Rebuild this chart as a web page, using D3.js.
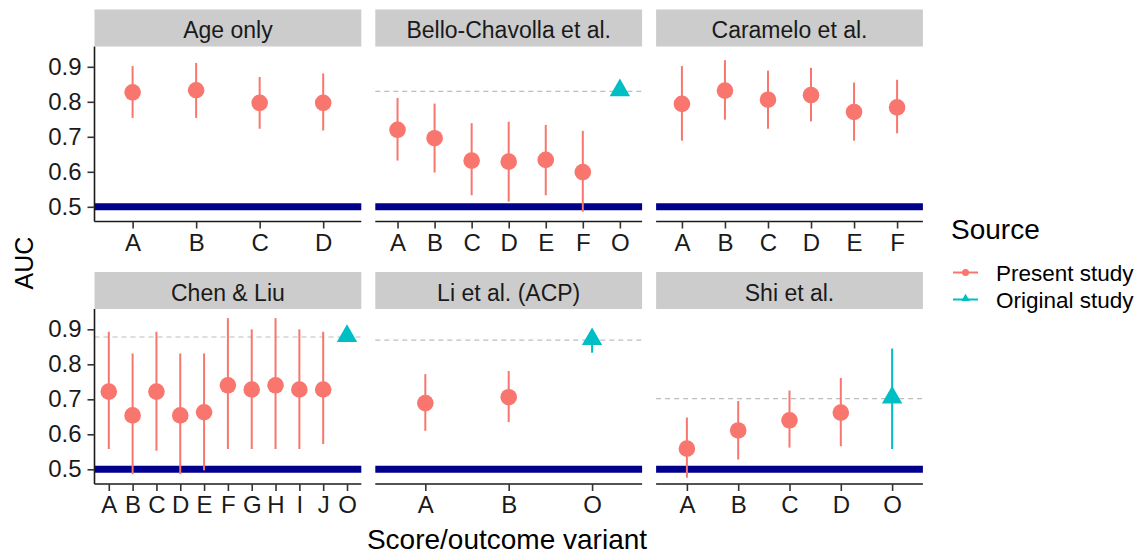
<!DOCTYPE html>
<html><head><meta charset="utf-8">
<script src="https://cdn.jsdelivr.net/npm/d3@7"></script>
<style>
body{margin:0;background:#fff}
svg{display:block}
text{font-family:"Liberation Sans",Arial,Helvetica,sans-serif}
</style>
</head><body>
<svg id="chart" width="1139" height="556"></svg>
<script>
// ---------- data ----------
const facets = ["Age only","Bello-Chavolla et al.","Caramelo et al.","Chen & Liu","Li et al. (ACP)","Shi et al."];

const ageCats = ["A","B","C","D"];
const ageAUC  = [0.827,0.833,0.797,0.797];
const ageLo   = [0.754,0.754,0.723,0.718];
const ageHi   = [0.902,0.911,0.871,0.881];

const belloCats = ["A","B","C","D","E","F","O"];
const belloAUC  = [0.720,0.696,0.632,0.629,0.634,0.599];
const belloLo   = [0.632,0.598,0.533,0.515,0.533,0.486];
const belloHi   = [0.811,0.795,0.739,0.743,0.734,0.717];

const caraCats = ["A","B","C","D","E","F"];
const caraAUC  = [0.794,0.832,0.806,0.819,0.771,0.784];
const caraLo   = [0.689,0.749,0.723,0.744,0.689,0.710];
const caraHi   = [0.902,0.919,0.889,0.897,0.855,0.863];

const chenCats = ["A","B","C","D","E","F","G","H","I","J","O"];
const chenAUC  = [0.722,0.654,0.722,0.654,0.663,0.740,0.728,0.740,0.728,0.728];
const chenLo   = [0.558,0.486,0.553,0.486,0.497,0.558,0.558,0.558,0.558,0.572];
const chenHi   = [0.893,0.831,0.893,0.831,0.831,0.932,0.900,0.932,0.900,0.893];

const liCats = ["A","B","O"];
const liAUC  = [0.689,0.706];
const liLo   = [0.610,0.635];
const liHi   = [0.772,0.781];

const shiCats = ["A","B","C","D","O"];
const shiAUC  = [0.559,0.611,0.640,0.662];
const shiLo   = [0.476,0.528,0.562,0.566];
const shiHi   = [0.648,0.695,0.725,0.761];

// original study values ("O"), per facet (null = none)
const origAUC = [null,0.830,null,0.878,0.869,0.702];
const origLo  = [null,null,null,null,0.833,0.558];
const origHi  = [null,null,null,null,0.900,0.845];

const yTicks = [0.5,0.6,0.7,0.8,0.9];
const refLine = 0.5;
const sources = ["Present study","Original study"];

// ---------- layout ----------
const colors = {present:"#F8766D", original:"#00BFC4", ref:"#00008B", strip:"#CCCCCC"};
const panelLeft0 = 94.5, panelW = 266.8, panelGap = 14;
const rowTop = [9.5, 272], stripH = 37, panelH = 175;
const tickFont = 24;

const svg = d3.select("#chart");
const y = d3.scaleLinear().domain([0.458,0.958]);

const catSets = [ageCats,belloCats,caraCats,chenCats,liCats,shiCats];
const aucSets = [ageAUC,belloAUC,caraAUC,chenAUC,liAUC,shiAUC];
const loSets  = [ageLo,belloLo,caraLo,chenLo,liLo,shiLo];
const hiSets  = [ageHi,belloHi,caraHi,chenHi,liHi,shiHi];

facets.forEach((name,i)=>{
  const col = i%3, row = Math.floor(i/3);
  const x0 = panelLeft0 + col*(panelW+panelGap);
  const sTop = rowTop[row];
  const pTop = sTop + stripH;
  const g = svg.append("g").attr("transform",`translate(${x0},${pTop})`);
  const yy = y.copy().range([panelH,0]);
  const x = d3.scalePoint().domain(catSets[i]).range([0,panelW]).padding(0.6);

  // strip
  svg.append("rect").attr("x",x0).attr("y",sTop).attr("width",panelW).attr("height",stripH)
    .attr("fill",colors.strip);
  svg.append("text").attr("x",x0+panelW/2).attr("y",sTop+stripH/2+10)
    .attr("text-anchor","middle").attr("font-size",23).attr("fill","#1A1A1A").text(name);

  // dashed original line
  if(origAUC[i]!==null){
    g.append("line").attr("x1",0).attr("x2",panelW).attr("y1",yy(origAUC[i])).attr("y2",yy(origAUC[i]))
      .attr("stroke","#BDBDBD").attr("stroke-width",1.2).attr("stroke-dasharray","5,4");
  }
  // reference line at 0.5
  g.append("line").attr("x1",0).attr("x2",panelW).attr("y1",yy(refLine)).attr("y2",yy(refLine))
    .attr("stroke",colors.ref).attr("stroke-width",7);

  // present study
  const pres = aucSets[i].map((v,k)=>({c:catSets[i][k],v,lo:loSets[i][k],hi:hiSets[i][k]}));
  g.selectAll(".eb").data(pres).enter().append("line")
    .attr("x1",d=>x(d.c)).attr("x2",d=>x(d.c)).attr("y1",d=>yy(d.lo)).attr("y2",d=>yy(d.hi))
    .attr("stroke",colors.present).attr("stroke-width",2);
  g.selectAll(".pt").data(pres).enter().append("circle")
    .attr("cx",d=>x(d.c)).attr("cy",d=>yy(d.v)).attr("r",8.3).attr("fill",colors.present);

  // original study
  if(origAUC[i]!==null){
    const ox = x("O");
    if(origLo[i]!==null){
      g.append("line").attr("x1",ox).attr("x2",ox).attr("y1",yy(origLo[i])).attr("y2",yy(origHi[i]))
        .attr("stroke",colors.original).attr("stroke-width",2);
    }
    g.append("path").attr("d",d3.symbol(d3.symbolTriangle,180)())
      .attr("transform",`translate(${ox},${yy(origAUC[i])-1})`).attr("fill",colors.original);
  }

  // x axis
  const xa = g.append("g").attr("transform",`translate(0,${panelH})`)
    .call(d3.axisBottom(x).tickSize(7).tickPadding(5));
  xa.select(".domain").attr("stroke","#1A1A1A").attr("stroke-width",1.6).attr("d",`M0,0H${panelW}`);
  xa.selectAll(".tick line").attr("stroke","#333").attr("stroke-width",1.6);
  xa.selectAll(".tick text").attr("font-size",tickFont).attr("fill","#1A1A1A")
    .attr("font-family",'"Liberation Sans",Arial,sans-serif');

  // y axis on left column
  if(col===0){
    const ya = g.append("g").call(d3.axisLeft(yy).tickValues(yTicks).tickFormat(d3.format(".1f")).tickSize(7).tickPadding(6));
    ya.select(".domain").attr("stroke","#1A1A1A").attr("stroke-width",1.6).attr("d",`M0,0V${panelH}`);
    ya.selectAll(".tick line").attr("stroke","#333").attr("stroke-width",1.6);
    ya.selectAll(".tick text").attr("font-size",tickFont).attr("fill","#1A1A1A")
      .attr("font-family",'"Liberation Sans",Arial,sans-serif');
  }
});

// axis titles
svg.append("text").attr("x",507).attr("y",549).attr("text-anchor","middle")
  .attr("font-size",28).attr("fill","#000").text("Score/outcome variant");
svg.append("text").attr("transform","translate(33,263) rotate(-90)").attr("text-anchor","middle")
  .attr("font-size",25).attr("fill","#000").text("AUC");

// legend
const lg = svg.append("g");
lg.append("text").attr("x",951).attr("y",239).attr("font-size",28).attr("fill","#000").text("Source");
const keyY = [272.5, 299.5];
sources.forEach((s,k)=>{
  const c = k===0?colors.present:colors.original;
  lg.append("line").attr("x1",953).attr("x2",978).attr("y1",keyY[k]).attr("y2",keyY[k])
    .attr("stroke",c).attr("stroke-width",2);
  if(k===0) lg.append("circle").attr("cx",965.5).attr("cy",keyY[k]).attr("r",3.5).attr("fill",c);
  else lg.append("path").attr("d",d3.symbol(d3.symbolTriangle,30)()).attr("transform",`translate(965.5,${keyY[k]-1})`).attr("fill",c);
  lg.append("text").attr("x",996).attr("y",keyY[k]+8.5).attr("font-size",22.5).attr("fill","#000").text(s);
});
</script>
</body></html>
